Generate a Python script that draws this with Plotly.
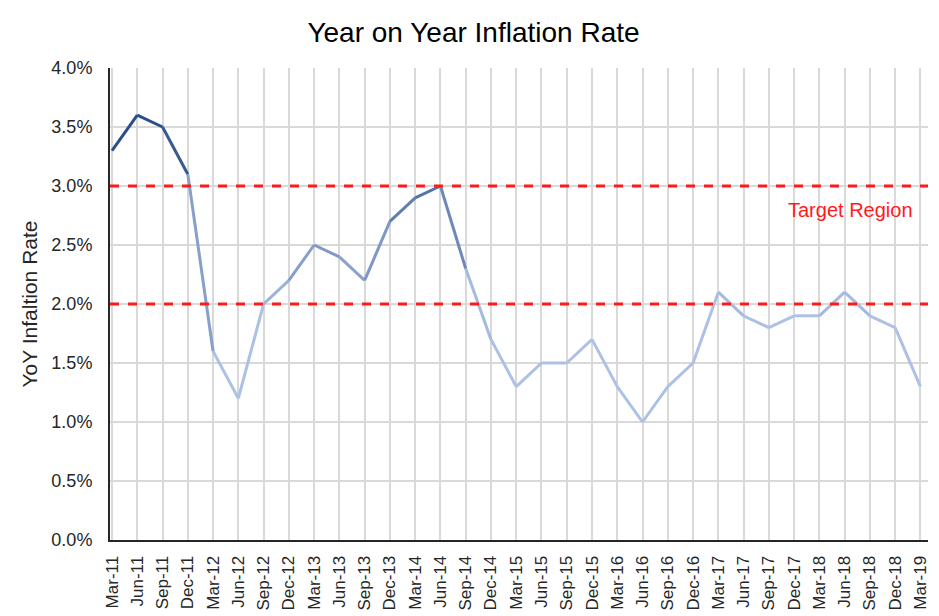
import plotly.graph_objects as go

quarters = ["Mar-11","Jun-11","Sep-11","Dec-11","Mar-12","Jun-12","Sep-12","Dec-12",
            "Mar-13","Jun-13","Sep-13","Dec-13","Mar-14","Jun-14","Sep-14","Dec-14",
            "Mar-15","Jun-15","Sep-15","Dec-15","Mar-16","Jun-16","Sep-16","Dec-16",
            "Mar-17","Jun-17","Sep-17","Dec-17","Mar-18","Jun-18","Sep-18","Dec-18","Mar-19"]
inflation = [3.3,3.6,3.5,3.1,1.6,1.2,2.0,2.2,
             2.5,2.4,2.2,2.7,2.9,3.0,2.3,1.7,
             1.3,1.5,1.5,1.7,1.3,1.0,1.3,1.5,
             2.1,1.9,1.8,1.9,1.9,2.1,1.9,1.8,1.3]
target_low = 2.0
target_high = 3.0
y_ticks = [0.0,0.5,1.0,1.5,2.0,2.5,3.0,3.5,4.0]

light = (172, 193, 228)
dark = (44, 78, 136)

def shade(v):
    t = (v - 1.9) / (3.45 - 1.9)
    t = max(0.0, min(1.0, t))
    c = [round(light[i] + (dark[i] - light[i]) * t) for i in range(3)]
    return f"rgb({c[0]},{c[1]},{c[2]})"

fig = go.Figure()
xs = list(range(len(quarters)))
for i in range(len(quarters) - 1):
    mid = (inflation[i] + inflation[i + 1]) / 2
    fig.add_trace(go.Scatter(
        x=[xs[i], xs[i + 1]], y=[inflation[i], inflation[i + 1]],
        mode="lines", line=dict(color=shade(mid), width=3),
        showlegend=False, hoverinfo="skip"))

for lvl in (target_low, target_high):
    fig.add_shape(type="line", xref="paper", x0=0, x1=1, yref="y", y0=lvl, y1=lvl,
                  line=dict(color="#FF1A1A", width=3, dash="dash"))

fig.add_annotation(text="Target Region", x=29.25, y=2.80, xref="x", yref="y",
                   showarrow=False, font=dict(color="#FF1A1A", size=20,
                                              family="Liberation Sans, Arial"))

fig.update_layout(
    width=931, height=608,
    margin=dict(l=102, r=11, t=60, b=76),
    paper_bgcolor="white", plot_bgcolor="white",
    font=dict(family="Liberation Sans, Arial", color="#262626"),
    title=dict(text="Year on Year Inflation Rate", x=0.5, xanchor="center",
               y=0.961, yanchor="middle", font=dict(size=28, color="#000000")),
    xaxis=dict(tickmode="array", tickvals=xs, ticktext=quarters, tickangle=-90,
               range=[-0.08, 32.3], showgrid=True, gridcolor="#D9D9D9", gridwidth=2,
               showline=True, linecolor="#262626", linewidth=2,
               ticks="outside", ticklen=7, tickcolor="rgba(0,0,0,0)",
               tickfont=dict(size=17), zeroline=False, automargin=False),
    yaxis=dict(tickmode="array", tickvals=y_ticks,
               ticktext=[f"{v:.1f}%" for v in y_ticks], range=[0, 4.0],
               showgrid=True, gridcolor="#D9D9D9", gridwidth=2,
               showline=True, linecolor="#262626", linewidth=2,
               ticks="outside", ticklen=12, tickcolor="rgba(0,0,0,0)",
               tickfont=dict(size=18), zeroline=False, automargin=False,
               title=dict(text="YoY Infaltion Rate", font=dict(size=21), standoff=8)),
)

fig.write_html("out.html")
